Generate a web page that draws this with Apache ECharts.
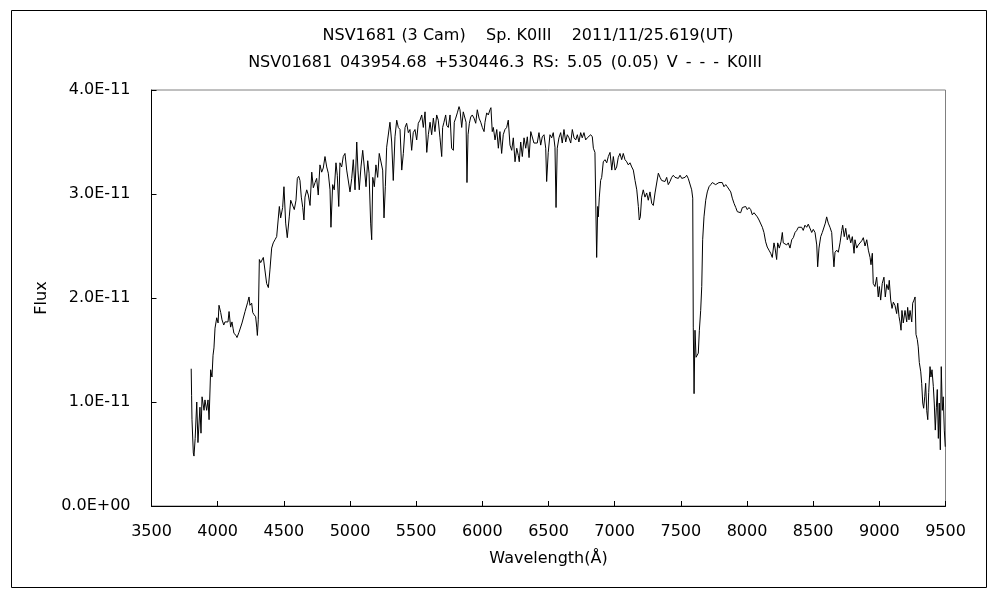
<!DOCTYPE html>
<html>
<head>
<meta charset="utf-8">
<script src="https://cdn.jsdelivr.net/npm/echarts@6/dist/echarts.min.js"></script>
<style>html,body{margin:0;padding:0;background:#fff}#c{width:1000px;height:600px}</style>
</head>
<body>
<div id="c"></div>
<script>
const titleLine1 = 'NSV1681 (3 Cam)    Sp. K0III    2011/11/25.619(UT)';
const titleLine2 = 'NSV01681\u2002043954.68\u2002+530446.3\u2002RS:\u20025.05\u2002(0.05)\u2002V\u2002-\u2002-\u2002-\u2002K0III';
const xTicks = [3500, 9500, 500];
const yTicks = [0, 4, 1];
// wavelength in Angstrom
const wavelength = [
3800,3803,3806,3812,3816,3821,3830,3842,3851,3866,3874,3882,3897,3904,3917,3927,3935,3947,3957,3965,3972,3980,3993,4003,4010,4023,4033,4046,4055,4068,4078,4086,4098,4108,4116,4123,4139,4146,4161,4176,4184,4191,4207,4219,4227,4237,4244,4257,4265,4275,4287,4295,4300,4307,4315,
4325,4345,4358,4370,4383,4395,4408,4420,4433,4446,4466,4476,4491,4501,4514,4526,4541,4552,4567,4579,4592,4602,4612,4622,4632,4643,4652,4660,4673,4685,4698,4711,4723,4736,4748,4760,4773,4786,4798,4811,4824,4836,4849,4856,4869,4881,4894,4904,4915,4924,4937,4949,4962,4975,4987,5000,5013,5025,5038,5051,5060,5070,5083,5096,5108,5121,5134,5144,5156,5164,5172,5184,5196,5209,5221,5234,5247,5257,5267,5277,5289,5302,5315,5327,5340,5353,5365,5378,5391,5403,5416,5428,5441,5453,5466,5478,5491,5504,5516,
5529,5542,5554,5567,5580,5592,5605,5617,5630,5642,5655,5667,5680,5693,5700,5710,5723,5731,5743,5756,5768,5781,5788,5799,5811,5824,5831,5844,5856,5869,5877,5884,5892,5902,5912,5924,5937,5950,5962,5975,5988,6000,6013,6020,6033,6045,6058,6065,6075,6083,6096,6109,6121,6133,6146,6158,6171,6184,6196,6209,6222,6234,6247,6260,6272,6279,6290,6302,6315,6328,6340,6353,6366,6378,6390,6403,6415,6428,6441,6453,6466,6479,6486,6498,6511,6524,6536,6549,6557,6566,6579,6592,6604,6617,6630,6642,6655,6668,6680,6693,6706,6718,6730,6743,6755,6768,6781,6793,6806,6819,6831,6839,6851,
6864,6872,6876,6884,6894,6902,6914,6927,6940,6952,6965,6978,6990,7003,7015,7027,7040,7053,7065,7078,7091,7103,7116,7129,7141,7154,7167,7179,7186,7194,7204,7216,7229,7242,7254,7267,7280,7292,7305,7318,7330,7343,7355,7368,7380,7393,7405,7418,7431,7443,7456,7469,7481,7494,7507,7519,7532,7544,7556,7569,7582,7590,
7594,7600,7607,7615,7625,7632,7640,7650,7658,7665,7675,7688,7700,7713,7726,7738,7751,7763,7776,7788,7801,7813,7826,7839,7851,7864,7877,7889,7902,7915,7927,7940,7952,7965,7977,7990,8002,8015,8028,8040,8053,8066,8078,8091,8104,8116,8128,8141,8153,8166,8179,8191,8204,8212,8224,8232,8244,8257,8267,8274,8287,8300,8312,8325,8338,8350,8363,8376,8388,
8401,8413,8425,8438,8451,8463,8476,8489,8501,8514,8527,8534,8544,8557,8569,8582,8592,8602,8614,8627,8640,8648,8657,8665,8678,8690,8703,8716,8723,8735,8746,8758,8771,8784,8796,8809,8816,8829,8841,8854,8867,8879,8892,8905,8917,8930,8937,8947,8954,8967,8980,8992,9000,9010,9022,9035,9045,9056,9068,9075,9086,9096,9106,9118,9131,9139,9149,9156,9164,9171,9181,9194,9207,9214,9224,9232,9245,9252,9262,9270,9277,9287,9294,9302,9313,9320,9328,9335,9343,9350,9358,9366,9373,9383,9390,9398,9408,9415,9423,9431,9438,9446,9453,9461,9468,9476,9483,9491,9498
];
// flux in units of 1E-11
const fluxE11 = [
1.32,1.06,0.83,0.83,0.51,0.48,0.65,1.00,0.61,0.95,0.70,1.05,0.92,1.02,0.92,1.02,0.83,1.31,1.24,1.45,1.52,1.71,1.81,1.76,1.93,1.86,1.79,1.74,1.77,1.76,1.77,1.87,1.72,1.77,1.71,1.66,1.64,1.62,1.67,1.66,1.76,1.77,1.87,1.88,1.96,2.01,1.93,1.95,1.86,1.84,1.82,1.72,1.64,1.79,2.37,
2.34,2.39,2.40,2.14,2.10,2.27,2.48,2.53,2.56,2.59,2.88,2.77,2.87,3.07,2.72,2.58,2.78,2.94,2.94,2.85,2.94,3.15,3.17,3.13,2.97,2.87,2.75,2.97,3.04,2.99,2.89,3.21,3.06,3.11,3.15,2.99,3.28,3.21,3.25,3.36,3.26,3.20,3.04,2.68,3.09,3.04,3.30,3.18,2.88,3.30,3.26,3.36,3.39,3.23,3.23,3.02,3.15,3.33,3.04,3.50,3.23,3.04,3.26,3.42,3.26,3.07,3.32,3.20,2.72,2.56,3.16,3.07,3.28,3.16,3.39,3.40,3.23,2.77,3.07,3.45,3.45,3.69,3.50,3.13,3.55,3.71,3.64,3.62,3.23,3.39,3.64,3.68,3.59,3.62,3.42,3.59,3.62,3.52,3.68,
3.71,3.76,3.64,3.79,3.40,3.57,3.69,3.57,3.73,3.60,3.76,3.71,3.54,3.36,3.64,3.69,3.76,3.66,3.64,3.76,3.44,3.42,3.69,3.73,3.78,3.84,3.81,3.64,3.79,3.78,3.69,3.11,3.57,3.68,3.74,3.76,3.73,3.68,3.81,3.73,3.69,3.64,3.60,3.69,3.78,3.76,3.81,3.83,3.60,3.64,3.52,3.62,3.44,3.60,3.39,3.57,3.62,3.64,3.71,3.47,3.42,3.54,3.31,3.44,3.37,3.31,3.50,3.36,3.54,3.44,3.55,3.35,3.60,3.60,3.49,3.50,3.49,3.59,3.47,3.55,3.57,3.44,3.12,3.40,3.57,3.54,3.59,3.45,2.87,3.44,3.54,3.59,3.49,3.62,3.50,3.57,3.54,3.49,3.62,3.54,3.52,3.57,3.50,3.59,3.54,3.59,3.52,3.54,3.55,3.57,3.55,3.44,3.40,
2.39,2.88,2.78,2.97,3.13,3.16,3.31,3.33,3.30,3.36,3.40,3.23,3.36,3.23,3.26,3.35,3.39,3.33,3.39,3.33,3.31,3.28,3.30,3.26,3.23,3.13,3.04,2.88,2.75,2.78,2.97,3.04,2.97,3.01,2.94,3.02,2.91,2.89,3.01,3.02,3.20,3.16,3.13,3.13,3.12,3.16,3.09,3.12,3.16,3.18,3.16,3.16,3.15,3.18,3.15,3.16,3.16,3.18,3.15,3.16,3.04,2.96,
1.72,1.08,1.69,1.43,1.43,1.47,1.69,1.88,2.11,2.56,2.78,2.94,3.02,3.07,3.09,3.11,3.11,3.09,3.09,3.11,3.12,3.11,3.07,3.09,3.07,3.06,3.02,2.96,2.91,2.87,2.83,2.83,2.82,2.87,2.87,2.88,2.85,2.87,2.85,2.80,2.82,2.83,2.78,2.75,2.75,2.68,2.63,2.54,2.49,2.46,2.43,2.39,2.53,2.48,2.37,2.53,2.48,2.54,2.63,2.53,2.54,2.51,2.53,2.48,2.56,2.58,2.63,2.65,2.68,
2.67,2.68,2.65,2.70,2.68,2.71,2.72,2.63,2.66,2.63,2.51,2.30,2.48,2.59,2.63,2.62,2.72,2.78,2.72,2.68,2.63,2.46,2.30,2.44,2.46,2.44,2.53,2.65,2.70,2.59,2.67,2.56,2.61,2.53,2.59,2.43,2.56,2.48,2.51,2.50,2.55,2.58,2.50,2.56,2.46,2.39,2.32,2.43,2.14,2.11,2.20,2.01,2.11,1.98,2.14,2.20,2.01,2.13,2.08,2.17,1.98,1.90,1.96,1.93,1.85,1.95,1.82,1.77,1.69,1.88,1.76,1.88,1.77,1.91,1.79,1.88,1.77,1.95,1.98,2.01,1.65,1.60,1.53,1.38,1.29,1.18,0.99,0.94,1.05,1.18,0.92,0.83,1.09,1.34,1.24,1.31,1.15,0.99,0.73,0.95,1.12,0.65,0.99,0.54,1.34,0.92,1.05,0.73,0.57
];

const FONT = 'DejaVu Sans';
const points = wavelength.map((w, i) => [w, fluxE11[i]]);

const chart = echarts.init(document.getElementById('c'), null, {renderer: 'canvas'});
chart.setOption({
  animation: false,
  backgroundColor: '#fff',
  textStyle: {fontFamily: FONT},
  grid: {left: 151.5, right: 54.5, top: 90, bottom: 94, show: true, borderColor: '#808080', borderWidth: 1, backgroundColor: 'transparent'},
  graphic: [
    {type: 'rect', shape: {x: 11.5, y: 10.5, width: 975, height: 577}, style: {fill: 'none', stroke: '#000', lineWidth: 1}, silent: true},
    {type: 'text', x: 528, y: 36, style: {text: titleLine1, fontFamily: FONT, fontSize: 16, fill: '#000', align: 'center', verticalAlign: 'middle'}},
    {type: 'text', x: 505, y: 63, style: {text: titleLine2, fontFamily: FONT, fontSize: 16, fill: '#000', align: 'center', verticalAlign: 'middle'}}
  ],
  xAxis: {
    type: 'value', min: xTicks[0], max: xTicks[1], interval: xTicks[2],
    name: 'Wavelength(Å)', nameLocation: 'middle', nameGap: 45,
    nameTextStyle: {fontFamily: FONT, fontSize: 16, color: '#000'},
    axisLine: {show: true, lineStyle: {color: '#000', width: 1}},
    axisTick: {show: true, inside: true, length: 5, lineStyle: {color: '#000'}},
    axisLabel: {fontFamily: FONT, fontSize: 16, color: '#000', margin: 18, formatter: v => String(v)},
    splitLine: {show: false}
  },
  yAxis: {
    type: 'value', min: yTicks[0], max: yTicks[1], interval: yTicks[2],
    name: 'Flux', nameLocation: 'middle', nameGap: 98, nameRotate: 90,
    nameTextStyle: {fontFamily: FONT, fontSize: 16, color: '#000'},
    axisLine: {show: true, lineStyle: {color: '#000', width: 1}},
    axisTick: {show: true, inside: true, length: 5, lineStyle: {color: '#000'}},
    axisLabel: {fontFamily: FONT, fontSize: 16, color: '#000', margin: 21,
      formatter: v => v === 0 ? '0.0E+00' : v.toFixed(1) + 'E-11'},
    splitLine: {show: false}
  },
  series: [{
    type: 'line', data: points, showSymbol: false, symbol: 'none',
    lineStyle: {color: '#000', width: 1}, silent: true
  }]
});
</script>
</body>
</html>
